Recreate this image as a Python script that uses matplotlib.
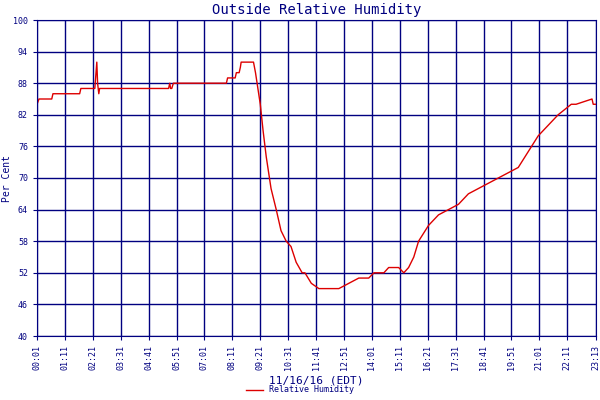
import matplotlib.pyplot as plt

# time in minutes after 00:01, relative humidity in %
minutes = [0, 5, 10, 37, 40, 107, 110, 145, 150, 152, 155, 157, 160, 330, 333, 335, 338, 342, 345,
           365, 368, 475, 478, 497, 500, 507, 510, 512, 543, 548, 552, 556, 560, 567, 575, 587, 600,
           612, 625, 637, 650, 665, 672, 688, 707, 732, 757, 782, 807, 832, 845, 857, 870, 882, 892,
           907, 920, 932, 945, 957, 982, 1007, 1032, 1057, 1082, 1107, 1132, 1157, 1182, 1207,
           1232, 1257, 1282, 1307, 1340, 1345, 1352, 1392, 1395, 1402]
humidity = [84, 85, 85, 85, 86, 86, 87, 87, 92, 88, 86, 87, 87, 87, 88, 87, 87, 88, 88,
            88, 88, 88, 89, 89, 90, 90, 91, 92, 92, 90, 88, 86, 84, 79, 74, 68, 64,
            60, 58, 57, 54, 52, 52, 50, 49, 49, 49, 50, 51, 51, 52, 52, 52, 53, 53,
            53, 52, 53, 55, 58, 61, 63, 64, 65, 67, 68, 69, 70, 71, 72,
            75, 78, 80, 82, 84, 84, 84, 85, 84, 84]
tick_labels = ['00:01', '01:11', '02:21', '03:31', '04:41', '05:51', '07:01', '08:11', '09:21',
               '10:31', '11:41', '12:51', '14:01', '15:11', '16:21', '17:31', '18:41', '19:51',
               '21:01', '22:11', '23:13']
yticks = [40, 46, 52, 58, 64, 70, 76, 82, 88, 94, 100]

navy = '#000080'
plt.rcParams['font.family'] = 'DejaVu Sans Mono'

fig = plt.figure(figsize=(6, 4), dpi=100)
ax = fig.add_axes([37/600, 64/400, 559/600, 316/400])

ax.plot(minutes, humidity, color='#dd0000', linewidth=1, label='Relative Humidity')

xt = [i * 70 for i in range(20)] + [1402]
ax.set_xticks(xt)
ax.set_xticklabels(tick_labels, rotation=90, fontsize=6, color=navy)
ax.set_xlim(0, 1402)
ax.set_yticks(yticks)
ax.set_yticklabels(yticks, fontsize=6, color=navy)
ax.set_ylim(40, 100)
ax.grid(True, color=navy, linewidth=1)
for s in ax.spines.values():
    s.set_color(navy)
ax.tick_params(colors=navy, length=3)

ax.set_title('Outside Relative Humidity', fontsize=10, color=navy, pad=4)
ax.set_ylabel('Per Cent', fontsize=7, color=navy)
ax.yaxis.set_label_coords(-0.045, 0.5)
ax.set_xlabel('11/16/16 (EDT)', fontsize=8, color=navy, labelpad=4)
fig.legend(loc='lower center', bbox_to_anchor=(0.5, -0.005), frameon=False, fontsize=6,
           handlelength=2, labelcolor=navy)

fig.savefig('out.png')
